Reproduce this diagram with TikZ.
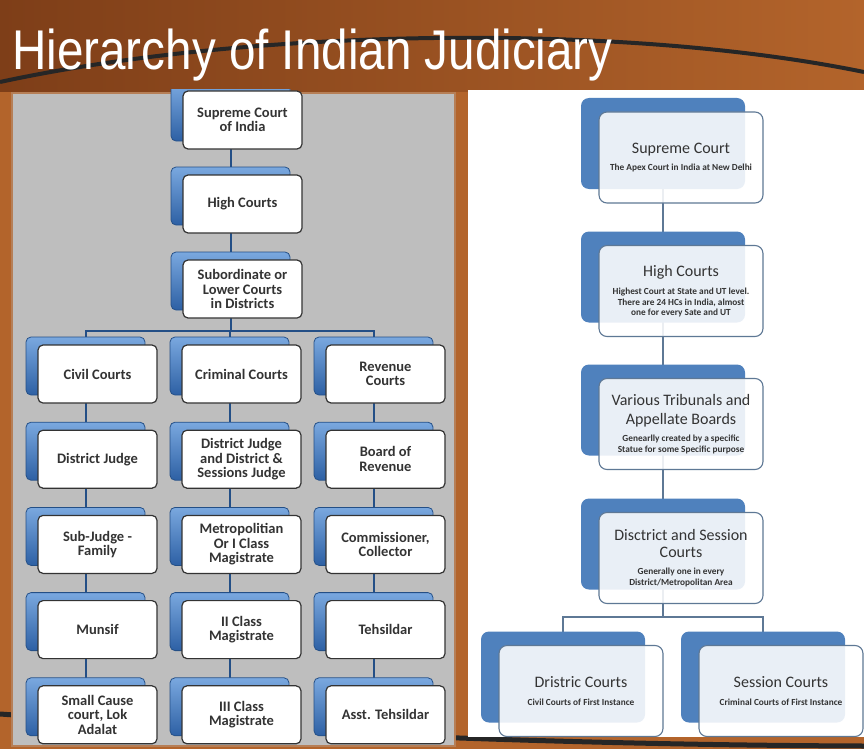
\documentclass[tikz,border=0pt]{standalone}
\usepackage{fontspec}
\setmainfont{Carlito}
\newfontfamily\headfont[FakeStretch=0.85]{Liberation Sans}
\usetikzlibrary{positioning,shadows}
\definecolor{woodA}{HTML}{7E3E18}
\definecolor{woodB}{HTML}{C27838}
\definecolor{woodC}{HTML}{B3642B}
\definecolor{panelgray}{HTML}{BEBEBE}
\definecolor{glossA}{HTML}{7AA8DF}
\definecolor{glossB}{HTML}{2D60A4}
\definecolor{glossline}{HTML}{244F86}
\definecolor{flatblue}{HTML}{4F81BD}
\definecolor{rimgray}{HTML}{5E7895}
\definecolor{inkgray}{HTML}{333333}
\pgfdeclarelayer{bg}
\pgfdeclarelayer{wire}
\pgfsetlayers{bg,wire,main}
\newcommand\rhead{\fontsize{16}{10.5}\selectfont}
\newcommand\rnote{\fontsize{9.3}{10.5}\selectfont\bfseries}
\tikzset{
  lbox/.style={draw=black!80, line width=1.2pt, fill=white, rounded corners=5pt,
    minimum width=119pt, minimum height=58pt, inner sep=1pt, align=center,
    text=inkgray, font=\fontsize{14.5}{14.5}\selectfont\bfseries,
    copy shadow={shadow xshift=-12pt, shadow yshift=8pt, draw=glossline,
      line width=0.8pt, top color=glossA, bottom color=glossB}},
  rbox/.style={draw=rimgray, line width=1.1pt, fill=white, fill opacity=0.88,
    text opacity=1, rounded corners=8pt, minimum width=164pt, minimum height=91pt,
    inner sep=1pt, align=center, text=inkgray, font=\fontsize{9.3}{10.5}\selectfont,
    copy shadow={shadow xshift=-18pt, shadow yshift=14pt, draw=none,
      fill=flatblue, fill opacity=1}},
  lwire/.style={draw=glossline, line width=2pt},
  rwire/.style={draw=rimgray, line width=1.6pt}
}
\begin{document}
\begin{tikzpicture}[x=1pt,y=-1pt]
  \useasboundingbox (0,0) rectangle (864,749);
  \def\x{144}
  \def\y{85.2}
  % wood, panels and the desk edge
  \begin{pgfonlayer}{bg}
    \fill[woodC] (0,0) rectangle (864,749);
    \shade[left color=woodA, middle color=woodB, right color=woodC]
      (0,0) rectangle (864,92);
    \draw[black!85, line width=4pt] (0,82) .. controls (250,28) and (620,22) .. (864,72);
    \draw[black!85, line width=5pt] (0,714) .. controls (300,735) and (600,745) .. (864,746);
    \fill[panelgray] (12,93) rectangle (455,746);
    \draw[woodC!70!panelgray, line width=2pt] (12,93) rectangle (455,746);
    \fill[white] (468,90) rectangle (864,737);
  \end{pgfonlayer}
  \node[anchor=base west, text=white, inner sep=0pt,
    font=\headfont\fontsize{56}{56}\selectfont] (title) at (12,70)
    {Hierarchy of Indian Judiciary};
  % left chart
  \begin{scope}
  \clip (0,90) rectangle (864,749);
  \node[lbox] (T0) at (242.5,120) {Supreme Court\\of India};
  \end{scope}
  \node[lbox] (T1) at (242.5,204) {High Courts};
  \node[lbox] (T2) at (242.5,289) {Subordinate or\\Lower Courts\\in Districts};
  \node[lbox] (A0_0) at (97.5+0*\x, 374+0*\y) {Civil Courts};
  \node[lbox] (A0_1) at (97.5+1*\x, 374+0*\y) {Criminal Courts};
  \node[lbox] (A0_2) at (97.5+2*\x, 374+0*\y) {Revenue\\Courts};
  \node[lbox] (A1_0) at (97.5+0*\x, 374+1*\y) {District Judge};
  \node[lbox] (A1_1) at (97.5+1*\x, 374+1*\y) {District Judge\\and District \&\\Sessions Judge};
  \node[lbox] (A1_2) at (97.5+2*\x, 374+1*\y) {Board of\\Revenue};
  \node[lbox] (A2_0) at (97.5+0*\x, 374+2*\y) {Sub-Judge -\\Family};
  \node[lbox] (A2_1) at (97.5+1*\x, 374+2*\y) {Metropolitian\\Or I Class\\Magistrate};
  \node[lbox] (A2_2) at (97.5+2*\x, 374+2*\y) {Commissioner,\\Collector};
  \node[lbox] (A3_0) at (97.5+0*\x, 374+3*\y) {Munsif};
  \node[lbox] (A3_1) at (97.5+1*\x, 374+3*\y) {II Class\\Magistrate};
  \node[lbox] (A3_2) at (97.5+2*\x, 374+3*\y) {Tehsildar};
  \node[lbox] (A4_0) at (97.5+0*\x, 374+4*\y) {Small Cause\\court, Lok\\Adalat};
  \node[lbox] (A4_1) at (97.5+1*\x, 374+4*\y) {III Class\\Magistrate};
  \node[lbox] (A4_2) at (97.5+2*\x, 374+4*\y) {Asst. Tehsildar};
  % right chart
  \node[rbox] (B0) at (681,157.5)
    {\rhead Supreme Court\\[7pt]\rnote The Apex Court in India at New Delhi};
  \node[rbox] (B1) at (681,291)
    {\rhead High Courts\\[8pt]\rnote Highest Court at State and UT level.\\
     \rnote There are 24 HCs in India, almost\\\rnote one for every Sate and UT};
  \node[rbox] (B2) at (681,424)
    {\rhead Various Tribunals and\\[6.2pt]\rhead Appellate Boards\\[7pt]
     \rnote Genearlly created by a specific\\\rnote Statue for some Specific purpose};
  \node[rbox] (B3) at (681,558)
    {\rhead Disctrict and Session\\[6.2pt]\rhead Courts\\[7pt]
     \rnote Generally one in every\\\rnote District/Metropolitan Area};
  \node[rbox] (B4_0) at (581,691)
    {\rhead Dristric Courts\\[7pt]\rnote Civil Courts of First Instance};
  \node[rbox] (B4_1) at (781,691)
    {\rhead Session Courts\\[7pt]\rnote Criminal Courts of First Instance};
  \begin{pgfonlayer}{wire}
    \path ([xshift=-12pt]T0.center) edge [lwire] ([xshift=-12pt]T1.center);
    \path ([xshift=-12pt]T1.center) edge [lwire] ([xshift=-12pt]T2.center);
    \draw[lwire] ([xshift=-12pt]T2.center) -- ++(0,42) -| ([xshift=-12pt]A0_0.center);
    \draw[lwire] ([xshift=-12pt]T2.center) -- ++(0,42) -| ([xshift=-12pt]A0_1.center);
    \draw[lwire] ([xshift=-12pt]T2.center) -- ++(0,42) -| ([xshift=-12pt]A0_2.center);
    \path ([xshift=-12pt]A0_0.center) edge [lwire] ([xshift=-12pt]A4_0.center);
    \path ([xshift=-12pt]A0_1.center) edge [lwire] ([xshift=-12pt]A4_1.center);
    \path ([xshift=-12pt]A0_2.center) edge [lwire] ([xshift=-12pt]A4_2.center);
    \path ([xshift=-18pt]B0.center) edge [rwire] ([xshift=-18pt]B3.center);
    \draw[rwire] ([xshift=-18pt]B3.center) -- ++(0,59) -| ([xshift=-18pt]B4_0.center);
    \draw[rwire] ([xshift=-18pt]B3.center) -- ++(0,59) -| ([xshift=-18pt]B4_1.center);
  \end{pgfonlayer}
\end{tikzpicture}
\end{document}
